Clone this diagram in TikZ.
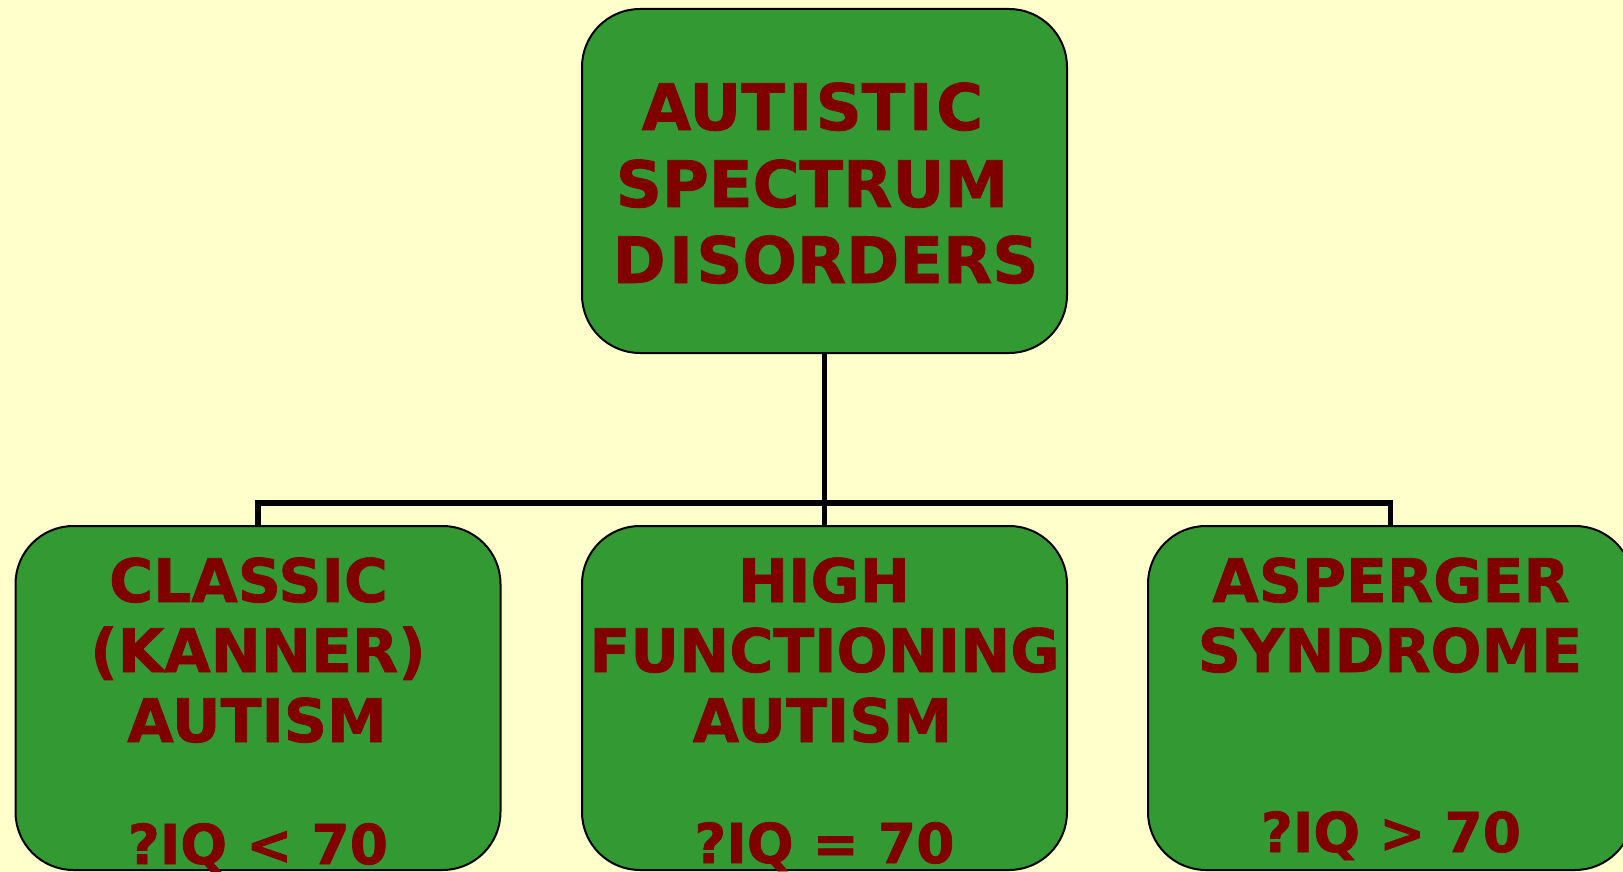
\documentclass[tikz,border=0pt]{standalone}
\usepackage{fontspec}
\setmainfont{DejaVu Sans}[BoldFeatures={FakeBold=1.2}]
\definecolor{bgyellow}{HTML}{FFFFCC}
\definecolor{boxgreen}{HTML}{339933}
\definecolor{txtred}{HTML}{800000}
\newcommand{\wideI}{\kern3.5pt I\kern3.5pt}
\begin{document}
\begin{tikzpicture}[x=1pt,y=-1pt,
  box/.style={draw=black,line width=2pt,fill=boxgreen,rounded corners=58pt,
    minimum width=485pt,minimum height=344pt,inner sep=0pt,outer sep=0pt},
  toptxt/.style={anchor=base,inner sep=0pt,text=txtred,font=\fontsize{64}{77}\selectfont\bfseries},
  subtxt/.style={anchor=base,inner sep=0pt,text=txtred,font=\fontsize{60}{70}\selectfont\bfseries},
  iqtxt/.style={anchor=base,inner sep=0pt,text=txtred,font=\fontsize{55}{66}\selectfont\bfseries},
  link/.style={draw=black,line width=5.5pt}]
\useasboundingbox[fill=bgyellow] (0,0) rectangle (1623,872);
% boxes
\node[box] (root) at (824.5,181) {};
\node[box] (classic) at (258,698) {};
\node[box] (hfa) at (824.5,698) {};
\node[box] (asp) at (1390.5,698) {};
% connectors
\coordinate (bus) at (824.5,503);
\draw[link] (root.south) -- (hfa.north);
\draw[link] (classic.north) |- (bus) -| (asp.north);
% top text
\node[toptxt] (t1) at (812.5,130) {AUT\wideI ST\wideI C};
\node[toptxt] (t2) at (812,207) {SPECTRUM};
\node[toptxt] (t3) at (825.5,283) {D\wideI SORDERS};
% classic
\node[subtxt] (c1) at (248.5,602) {CLASSIC};
\node[subtxt] (c2) at (258,672) {(KANNER)};
\node[subtxt] (c3) at (257,742) {AUTISM};
\node[iqtxt] (c4) at (258,864) {?IQ < 70};
% hfa
\node[subtxt] (h1) at (824,602) {HIGH};
\node[subtxt] (h2) at (824.5,672) {FUNCTIONING};
\node[subtxt] (h3) at (822.5,742) {AUTISM};
\node[iqtxt] (h4) at (824.5,863) {?IQ = 70};
% asperger
\node[subtxt] (a1) at (1391,602) {ASPERGER};
\node[subtxt] (a2) at (1390,672) {SYNDROME};
\node[iqtxt] (a3) at (1391,852) {?IQ > 70};
\end{tikzpicture}
\end{document}
